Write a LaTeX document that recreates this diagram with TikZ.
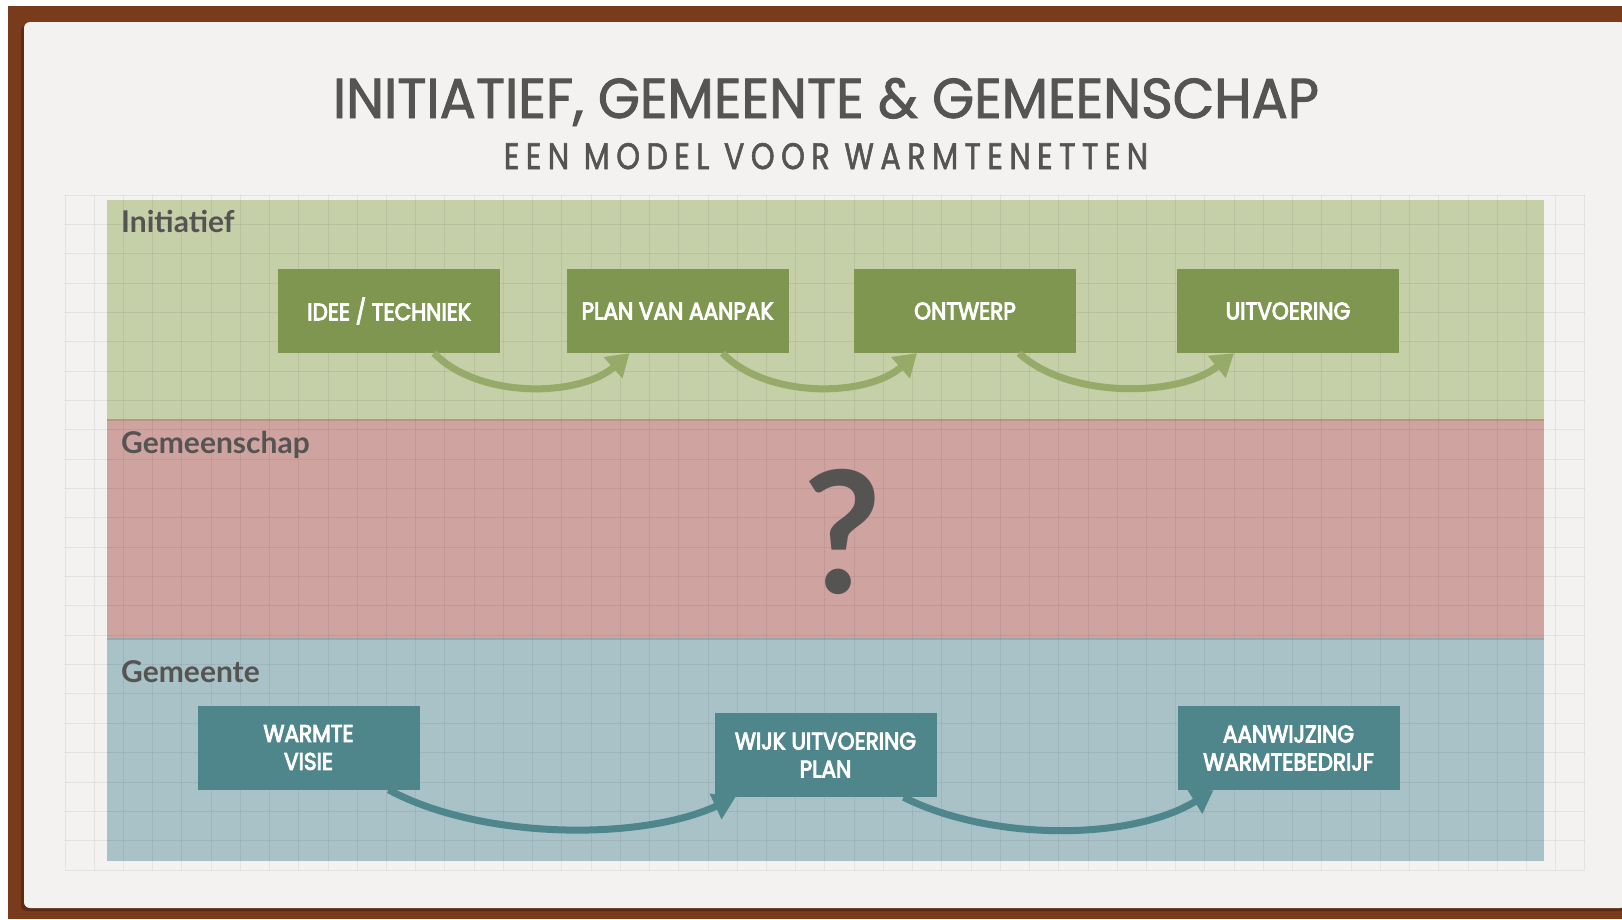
\documentclass[tikz,border=0pt]{standalone}
\usepackage{fontspec}
\usepackage{graphicx}
\usetikzlibrary{arrows.meta,calc}
\newfontfamily\titlefont{Poppins}[FakeStretch=0.85,FakeBold=1.5]
\newfontfamily\subfont{Poppins}[FakeStretch=0.85,FakeBold=1.5,LetterSpace=18]
\newfontfamily\boxfont{Poppins}[FakeStretch=0.9,FakeBold=4]
\newfontfamily\labelfont{Lato}
\definecolor{brownframe}{HTML}{7A3A1C}
\definecolor{paper}{HTML}{F3F2F0}
\definecolor{bandgreen}{HTML}{C5CFA8}
\definecolor{bandred}{HTML}{CEA3A0}
\definecolor{bandblue}{HTML}{A8C2C7}
\definecolor{boxgreen}{HTML}{7F9651}
\definecolor{arrowgreen}{HTML}{96AA69}
\definecolor{boxblue}{HTML}{4F868B}
\definecolor{inkgray}{HTML}{555452}
\definecolor{divgreen}{HTML}{B9977E}
\definecolor{divblue}{HTML}{98A9AA}
\begin{document}
\begin{tikzpicture}[x=1pt,y=-1pt,
  stagebox/.style={rectangle, minimum width=222pt, minimum height=84pt, inner sep=0pt, text=white, align=center, font=\boxfont\fontsize{24}{28}\selectfont},
  greenbox/.style={stagebox, fill=boxgreen},
  bluebox/.style={stagebox, fill=boxblue},
  garrow/.style={draw=arrowgreen, line width=7pt, -{Triangle[width=27pt,length=22pt]}},
  barrow/.style={draw=boxblue, line width=7pt, -{Triangle[width=27pt,length=22pt]}},
  seclabel/.style={anchor=base west, inner sep=0pt, text=inkgray, font=\labelfont\bfseries\fontsize{30}{36}\selectfont},
  gridline/.style={draw=black, opacity=0.06, line width=1pt}]
\useasboundingbox (0,0) rectangle (1622,919);
% frame
\fill[white] (0,0) rectangle (1622,919);
\fill[brownframe] (8,6) rectangle (1622,919);
\fill[black, opacity=0.25, rounded corners=6pt] (21,25) rectangle (1626,911);
\fill[paper, rounded corners=6pt] (24,22) rectangle (1626,908);
% bands
\fill[bandgreen] (107,200) rectangle (1544,420);
\fill[bandred] (107,420) rectangle (1544,639);
\fill[bandblue] (107,639) rectangle (1544,861);
\draw[divgreen, line width=2pt] (107,420) -- (1544,420);
\draw[divblue, line width=2pt] (107,639) -- (1544,639);
% grid
\foreach \i in {0,...,52} \draw[gridline] ({65+\i*29.23},195) -- ({65+\i*29.23},870);
\foreach \j in {0,...,23} \draw[gridline] (65,{195+\j*29.35}) -- (1585,{195+\j*29.35});
% title
\node[anchor=base, inner sep=0pt, text=inkgray] (title) at (826,118) {\resizebox{986pt}{40pt}{\titlefont INITIATIEF, GEMEENTE \& GEMEENSCHAP}};
\node[anchor=base, inner sep=0pt, text=inkgray] (subtitle) at (826,169) {\resizebox{644pt}{26pt}{\subfont EEN MODEL VOOR WARMTENETTEN}};
% section labels
\node[seclabel] (labinit) at (121,232) {Initiatief};
\node[seclabel] (labgms) at (121,453) {Gemeenschap};
\node[seclabel] (labgmt) at (121,682) {Gemeente};
% question mark
\node[inner sep=0pt, text=inkgray, font=\labelfont\bfseries\fontsize{170}{170}\selectfont] (qm) at (843,532) {?};
% top boxes
\node[greenbox] (idee) at (389,311) {IDEE / TECHNIEK};
\node[greenbox] (plan) at (677.5,311) {PLAN VAN AANPAK};
\node[greenbox] (ontwerp) at (965,311) {ONTWERP};
\node[greenbox] (uitv) at (1288,311) {UITVOERING};
% bottom boxes
\node[bluebox] (warmte) at (308.5,747.5) {WARMTE\\VISIE};
\node[bluebox] (wijk) at (825.5,755) {WIJK UITVOERING\\PLAN};
\node[bluebox] (aanw) at (1288.5,748) {AANWIJZING\\WARMTEBEDRIJF};
% top arrows
\draw[garrow] ([xshift=45pt]idee.south) .. controls +(45,46) and +(-50,44) .. ([xshift=-48pt]plan.south);
\draw[garrow] ([xshift=45pt]plan.south) .. controls +(45,46) and +(-50,44) .. ([xshift=-48pt]ontwerp.south);
\draw[garrow] ([xshift=54pt]ontwerp.south) .. controls +(50,46) and +(-55,44) .. ([xshift=-54pt]uitv.south);
% bottom arrows
\draw[barrow] ([xshift=80pt]warmte.south) .. controls +(92,50) and +(-95,44) .. ([xshift=-90pt]wijk.south);
\draw[barrow] ([xshift=78pt]wijk.south) .. controls +(87,44) and +(-83,51) .. ([xshift=-75pt]aanw.south);
\end{tikzpicture}
\end{document}
